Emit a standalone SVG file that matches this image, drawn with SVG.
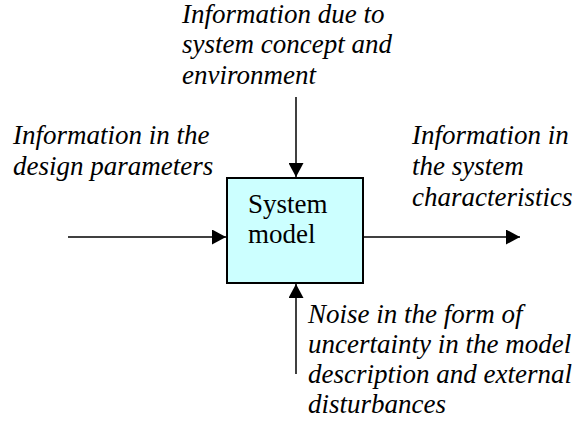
<svg xmlns="http://www.w3.org/2000/svg" width="577" height="425" viewBox="0 0 577 425">
<style>
.lbl{font-family:'Liberation Serif','Times New Roman',Times,serif;font-style:italic;font-size:27px;fill:#000}
.box{fill:#ccffff;stroke:#000;stroke-width:2}
.nt{font-family:'Liberation Serif','Times New Roman',Times,serif;font-size:27px;fill:#000}
.conn{stroke:#000;stroke-width:1.5;fill:none;marker-end:url(#ah)}
</style>
<defs>
<marker id="ah" markerUnits="userSpaceOnUse" markerWidth="14" markerHeight="15" refX="14" refY="7.5" orient="auto">
<path d="M0,0 L14,7.5 L0,15 Z" fill="#000"/>
</marker>
</defs>
<rect width="577" height="425" fill="#fff"/>
<g id="connectors">
<line class="conn" x1="296" y1="97" x2="296" y2="177"/>
<line class="conn" x1="68" y1="237" x2="226" y2="237"/>
<line class="conn" x1="364" y1="237" x2="520" y2="237"/>
<line class="conn" x1="296" y1="374" x2="296" y2="284"/>
</g>
<g id="system-model">
<rect class="box" x="227" y="178" width="136" height="105"/>
<text class="nt" x="248" y="213">System</text>
<text class="nt" x="248" y="243">model</text>
</g>
<g id="label-top">
<text class="lbl" x="182" y="23">Information due to</text>
<text class="lbl" x="182" y="53">system concept and</text>
<text class="lbl" x="182" y="84">environment</text>
</g>
<g id="label-left">
<text class="lbl" x="13" y="144">Information in the</text>
<text class="lbl" x="13" y="175">design parameters</text>
</g>
<g id="label-right">
<text class="lbl" x="412" y="144">Information in</text>
<text class="lbl" x="412" y="175">the system</text>
<text class="lbl" x="412" y="206">characteristics</text>
</g>
<g id="label-bottom">
<text class="lbl" x="308" y="323">Noise in the form of</text>
<text class="lbl" x="308" y="353">uncertainty in the model</text>
<text class="lbl" x="308" y="383">description and external</text>
<text class="lbl" x="308" y="413">disturbances</text>
</g>
</svg>
